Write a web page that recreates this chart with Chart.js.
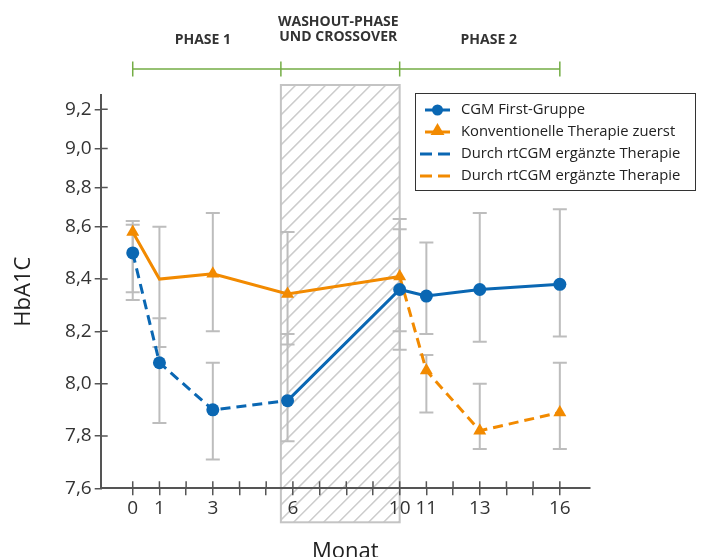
<!DOCTYPE html>
<html>
<head>
<meta charset="utf-8">
<script src="https://cdn.jsdelivr.net/npm/chart.js@4.4.1/dist/chart.umd.min.js"></script>
<style>
  html, body { margin: 0; padding: 0; background: #fff; }
</style>
</head>
<body>
<canvas id="chartId" width="702" height="557"></canvas>
<script>
// values
const months = [0, 1, 3, 5.8, 10, 11, 13, 16];

const cgmFirst     = [8.50, 8.08, 7.90, 7.935, 8.36, 8.335, 8.36, 8.38];
const cgmFirstLow  = [8.35, 7.85, 7.71, 7.78, 8.20, 8.19, 8.16, 8.18];
const cgmFirstHigh = [8.61, 8.25, 8.08, 8.19, 8.59, 8.54, 8.67, 8.69];

const convFirst     = [8.58, 8.40, 8.42, 8.343, 8.41, 8.05, 7.82, 7.89];
const convFirstLow  = [8.32, 8.14, 8.20, 8.15, 8.13, 7.89, 7.75, 7.75];
const convFirstHigh = [8.63, 8.60, 8.67, 8.58, 8.64, 8.11, 8.00, 8.08];

const xTicks  = [0, 1, 2, 3, 4, 5, 6, 7, 8, 9, 10, 11, 12, 13, 14, 15, 16];
const xLabels = [0, 1, 3, 6, 10, 11, 13, 16];
const yTicks  = [7.6, 7.8, 8.0, 8.2, 8.4, 8.6, 8.8, 9.0, 9.2];

const phaseBounds = [0, 5.55, 10, 16];
const phaseNames  = [['PHASE 1'], ['WASHOUT-PHASE', 'UND CROSSOVER'], ['PHASE 2']];

const legendLabels = [
  'CGM First-Gruppe',
  'Konventionelle Therapie zuerst',
  'Durch rtCGM ergänzte Therapie',
  'Durch rtCGM ergänzte Therapie'
];

const BLUE = '#0a67b3';
const ORANGE = '#f28a00';
const AXIS = '#555';

// the original axis is stretched below 8,6
class HbScale extends Chart.LinearScale {
  decimalFor(v) {
    const brk = 8.6, split = 0.665;
    if (v <= brk) return (v - this.min) / (brk - this.min) * split;
    return split + (v - brk) / (this.max - brk) * (1 - split);
  }
  getPixelForValue(v) {
    return v === null ? NaN : this.getPixelForDecimal(this.decimalFor(v));
  }
  getValueForPixel(p) {
    const d = this.getDecimalForPixel(p), brk = 8.6, split = 0.665;
    if (d <= split) return this.min + d / split * (brk - this.min);
    return brk + (d - split) / (1 - split) * (this.max - brk);
  }
}
HbScale.id = 'hbscale';
HbScale.defaults = {};
Chart.register(HbScale);

Chart.defaults.font.family = "'Open Sans', sans-serif";
Chart.defaults.color = '#333';

// hatched washout box behind everything
const hatchBox = {
  id: 'hatchBox',
  beforeDraw(chart) {
    const {ctx, chartArea, scales: {x}} = chart;
    const x0 = x.getPixelForValue(phaseBounds[1]), x1 = x.getPixelForValue(phaseBounds[2]);
    const top = chartArea.top - 10, bot = chartArea.bottom + 34, h = bot - top;
    ctx.save();
    ctx.beginPath();
    ctx.rect(x0, top, x1 - x0, h);
    ctx.clip();
    ctx.beginPath();
    ctx.strokeStyle = '#cccccc';
    ctx.lineWidth = 1.5;
    for (let k = x0 - h; k < x1 + 15; k += 15) {
      ctx.moveTo(k, bot);
      ctx.lineTo(k + h, top);
    }
    ctx.stroke();
    ctx.restore();
    ctx.save();
    ctx.strokeStyle = '#c4c4c4';
    ctx.lineWidth = 2;
    ctx.strokeRect(x0, top, x1 - x0, h);
    ctx.restore();
  }
};

const errorBars = {
  id: 'errorBars',
  beforeDatasetsDraw(chart) {
    const {ctx, scales: {x, y}} = chart;
    ctx.save();
    ctx.strokeStyle = '#bdbdbd';
    ctx.lineWidth = 2;
    [[cgmFirstLow, cgmFirstHigh], [convFirstLow, convFirstHigh]].forEach(([lo, hi]) => {
      months.forEach((m, i) => {
        const px = x.getPixelForValue(m);
        const y1 = y.getPixelForValue(lo[i]), y2 = y.getPixelForValue(hi[i]);
        ctx.beginPath();
        ctx.moveTo(px, y1); ctx.lineTo(px, y2);
        ctx.moveTo(px - 7, y1); ctx.lineTo(px + 7, y1);
        ctx.moveTo(px - 7, y2); ctx.lineTo(px + 7, y2);
        ctx.stroke();
      });
    });
    ctx.restore();
  }
};

function triangle(ctx, cx, cy, r) {
  ctx.beginPath();
  ctx.moveTo(cx, cy - r);
  ctx.lineTo(cx + r * 0.866, cy + r / 2);
  ctx.lineTo(cx - r * 0.866, cy + r / 2);
  ctx.closePath();
  ctx.fill();
}

// inner tick halves, phase bar and the boxed legend
const decorations = {
  id: 'decorations',
  afterDraw(chart) {
    const {ctx, chartArea, scales: {x, y}} = chart;
    ctx.save();
    ctx.strokeStyle = AXIS;
    ctx.lineWidth = 1.5;
    ctx.beginPath();
    y.ticks.forEach((t, i) => {
      const py = y.getPixelForTick(i);
      ctx.moveTo(chartArea.left, py); ctx.lineTo(chartArea.left + 7, py);
    });
    x.ticks.forEach((t, i) => {
      const px = x.getPixelForTick(i);
      ctx.moveTo(px, chartArea.bottom); ctx.lineTo(px, chartArea.bottom - 7);
    });
    ctx.stroke();

    // phase bar
    const barY = chartArea.top - 26;
    ctx.strokeStyle = '#74ad45';
    ctx.lineWidth = 1.5;
    ctx.beginPath();
    ctx.moveTo(x.getPixelForValue(phaseBounds[0]), barY);
    ctx.lineTo(x.getPixelForValue(phaseBounds[phaseBounds.length - 1]), barY);
    phaseBounds.forEach(b => {
      const px = x.getPixelForValue(b);
      ctx.moveTo(px, barY - 7.5); ctx.lineTo(px, barY + 7.5);
    });
    ctx.stroke();

    ctx.fillStyle = '#333';
    ctx.font = "bold 14px 'Open Sans', sans-serif";
    ctx.textAlign = 'center';
    ctx.textBaseline = 'middle';
    const nudge = [-4, -2, 9];
    phaseNames.forEach((lines, i) => {
      const cx = (x.getPixelForValue(phaseBounds[i]) + x.getPixelForValue(phaseBounds[i + 1])) / 2 + nudge[i];
      if (lines.length === 1) {
        ctx.fillText(lines[0], cx, barY - 29);
      } else {
        ctx.fillText(lines[0], cx, barY - 47);
        ctx.fillText(lines[1], cx, barY - 32);
      }
    });

    // legend
    const lx = 415, ly = chartArea.top - 2, lw = 280, lh = 97;
    ctx.strokeStyle = '#333';
    ctx.lineWidth = 1;
    ctx.strokeRect(lx + 0.5, ly + 0.5, lw, lh);
    const colors = [BLUE, ORANGE, BLUE, ORANGE];
    ctx.font = "14.8px 'Open Sans', sans-serif";
    ctx.textAlign = 'left';
    legendLabels.forEach((label, i) => {
      const ry = ly + 17 + i * 22;
      ctx.strokeStyle = colors[i];
      ctx.fillStyle = colors[i];
      ctx.lineWidth = 3;
      ctx.beginPath();
      if (i < 2) {
        ctx.setLineDash([]);
        ctx.moveTo(lx + 10, ry); ctx.lineTo(lx + 35, ry);
      } else {
        ctx.setLineDash([12, 6]);
        ctx.moveTo(lx + 5, ry); ctx.lineTo(lx + 37, ry);
      }
      ctx.stroke();
      ctx.setLineDash([]);
      if (i === 0) {
        ctx.beginPath();
        ctx.arc(lx + 22.5, ry, 5.5, 0, Math.PI * 2);
        ctx.fill();
      } else if (i === 1) {
        triangle(ctx, lx + 22.5, ry - 1, 8);
      }
      ctx.fillStyle = '#222';
      ctx.fillText(label, lx + 46, ry);
    });
    ctx.restore();
  }
};

const blueSplit = months.indexOf(5.8);
const orangeSplit = months.indexOf(10);

new Chart(document.getElementById('chartId'), {
  type: 'line',
  data: {
    datasets: [{
      label: legendLabels[0],
      data: months.map((m, i) => ({x: m, y: cgmFirst[i]})),
      borderColor: BLUE,
      backgroundColor: BLUE,
      borderWidth: 3,
      pointStyle: 'circle',
      pointRadius: 6.5,
      pointBorderWidth: 0,
      segment: { borderDash: c => c.p0DataIndex < blueSplit ? [10, 6] : undefined }
    }, {
      label: legendLabels[1],
      data: months.map((m, i) => ({x: m, y: convFirst[i]})),
      borderColor: ORANGE,
      backgroundColor: ORANGE,
      borderWidth: 3,
      pointStyle: 'triangle',
      pointRadius: c => c.dataIndex === 1 ? 0 : 7.5,
      pointBorderWidth: 0,
      segment: { borderDash: c => c.p0DataIndex >= orangeSplit ? [10, 6] : undefined }
    }]
  },
  options: {
    responsive: false,
    animation: false,
    devicePixelRatio: 1,
    layout: { padding: { top: 95, right: 112, left: 0, bottom: 0 } },
    plugins: { legend: { display: false }, tooltip: { enabled: false } },
    scales: {
      x: {
        type: 'linear',
        min: -1.2,
        max: 17.13,
        afterBuildTicks: s => { s.ticks = xTicks.map(v => ({value: v})); },
        afterFit: s => { s.height = 68.7; },
        ticks: {
          autoSkip: false,
          maxRotation: 0,
          padding: 2,
          font: { size: 19 },
          color: '#333',
          callback: v => xLabels.includes(v) ? String(v) : ''
        },
        grid: { drawOnChartArea: false, tickLength: 7, color: AXIS, lineWidth: 1.5 },
        border: { color: AXIS, width: 2 },
        title: { display: true, text: 'Monat', font: { size: 22 }, color: '#222', padding: { top: 0, bottom: -8 } }
      },
      y: {
        type: 'hbscale',
        min: 7.6,
        max: 9.273,
        afterBuildTicks: s => { s.ticks = yTicks.map(v => ({value: v})); },
        afterFit: s => { s.width = 100.7; },
        ticks: {
          padding: 3,
          font: { size: 19 },
          color: '#333',
          callback: v => v.toFixed(1).replace('.', ',')
        },
        grid: { drawOnChartArea: false, tickLength: 6, color: AXIS, lineWidth: 1.5 },
        border: { color: AXIS, width: 2 },
        title: { display: true, text: 'HbA1C', font: { size: 22 }, color: '#222', padding: { top: 11, bottom: 0 } }
      }
    }
  },
  plugins: [hatchBox, errorBars, decorations]
});
</script>
</body>
</html>
